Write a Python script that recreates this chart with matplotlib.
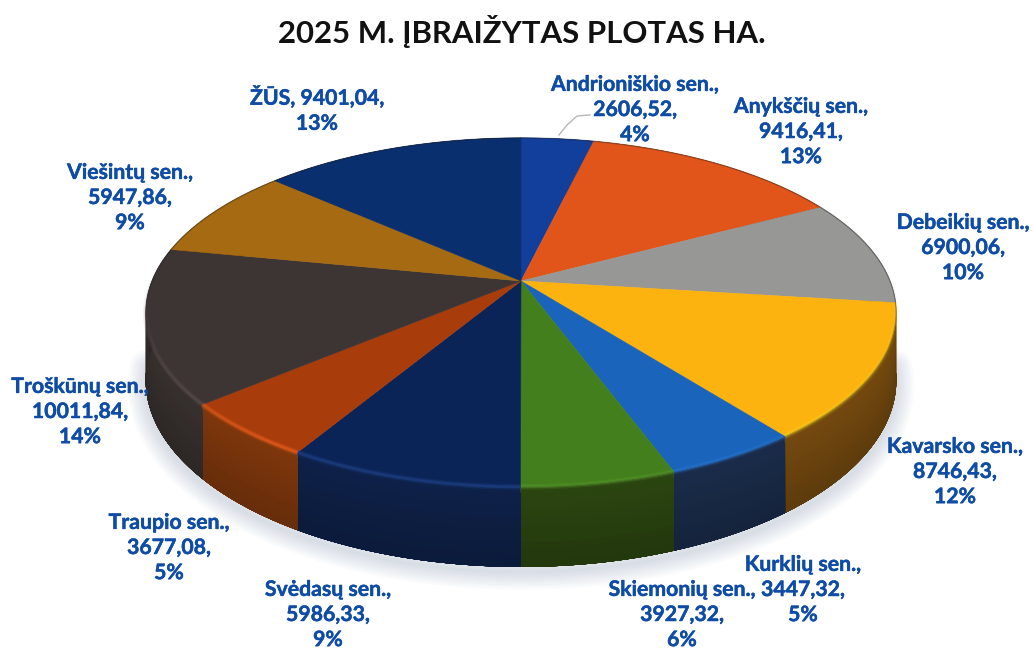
import numpy as np
import matplotlib
matplotlib.use("Agg")
import matplotlib.pyplot as plt
import matplotlib.patheffects as pe
from matplotlib.collections import LineCollection
from matplotlib.colors import to_rgb

# Data
names = ["Andrioniškio sen.", "Anykščių sen.", "Debeikių sen.", "Kavarsko sen.",
         "Kurklių sen.", "Skiemonių sen.", "Svėdasų sen.", "Traupio sen.",
         "Troškūnų sen.", "Viešintų sen.", "ŽŪS"]
values = [2606.52, 9416.41, 6900.06, 8746.43, 3447.32, 3927.32,
          5986.33, 3677.08, 10011.84, 5947.86, 9401.04]
percents = [4, 13, 10, 12, 5, 6, 9, 5, 14, 9, 13]

top_colors = ["#123f9c", "#e2551a", "#979795", "#fdb30f", "#1a64bb", "#437f1d",
              "#0b2458", "#a83c0b", "#3d3434", "#a56a12", "#0a2f6e"]
side_colors = ["#0f2a60", "#8a3a10", "#5c5c5c", "#74490f", "#1a2c4a", "#2b4510",
               "#0e2148", "#7f370c", "#37302f", "#6a4510", "#0c2350"]

# label centres in pixels
label_x = [635, 801, 963, 955, 803, 682, 328, 169, 80, 130, 317]
label_y = [110, 132, 248, 472, 590, 615, 615, 548, 412, 198, 110]

# perspective of the disc
CX, CY = 521, 281
A, B, K = 369, 168.8, 0.18
DEPTH = 65.5


def project(theta):
    u, v = np.sin(theta), np.cos(theta)
    w = 1 + K * v
    return CX + A * u / w, CY - B * v / w, w


def scale(color, f):
    return tuple(min(1, c * f) for c in to_rgb(color))


fig = plt.figure(figsize=(10.33, 6.49), dpi=100)
ax = fig.add_axes([0, 0, 1, 1])
ax.set_xlim(0, 1033)
ax.set_ylim(649, 0)
ax.axis("off")

total = sum(values)
edges = np.concatenate([[0], np.cumsum(values)]) / total * 2 * np.pi

# soft shadow under the front of the pie
th = np.radians(np.linspace(95, 265, 200))
sx, sy, sw = project(th)
for lw in range(26, 0, -3):
    ax.plot(sx, sy + DEPTH / sw + 5, color="#8e9bb5", lw=lw, alpha=0.04,
            solid_capstyle="round", zorder=1)

# side wall, painted in overlapping bands from top to bottom for the shading
bands = np.linspace(0, 1, 14)[:-1]
for i in range(len(values)):
    th = np.linspace(edges[i], edges[i + 1], 80)
    x, y, w = project(th)
    for t in bands:
        px = np.r_[x, x[::-1]]
        py = np.r_[y + t * DEPTH / w, (y + DEPTH / w)[::-1]]
        ax.fill(px, py, color=scale(side_colors[i], 1.0 - 0.2 * t), lw=0.3, zorder=2)

# top face
for i in range(len(values)):
    th = np.linspace(edges[i], edges[i + 1], 80)
    x, y, w = project(th)
    ax.fill(np.r_[CX, x], np.r_[CY, y], color=top_colors[i], lw=0.4, zorder=3)

# dark thin edge on the outer rim, then the bright bevel on the front left
th = np.linspace(0, 2 * np.pi, 360)
rx, ry, rw = project(th)
ax.plot(rx, ry, color="#1c1a18", lw=1.0, alpha=0.35, zorder=3.5)
for i in range(len(values)):
    th = np.linspace(edges[i], edges[i + 1], 80)
    x, y, w = project(th)
    segs, strong = [], []
    for j in range(len(th) - 1):
        s = max(0.0, -np.cos(th[j]))
        if np.sin(th[j]) > 0:
            s *= 0.35
        segs.append([(x[j], y[j]), (x[j + 1], y[j + 1])])
        strong.append(min(1, s * 1.2))
    light = tuple(min(1, c * 1.3 + 0.05) for c in to_rgb(top_colors[i]))
    for lw, fade in [(4.0, 0.35), (2.0, 0.8)]:
        cols = [light + (a * fade,) for a in strong]
        ax.add_collection(LineCollection(segs, colors=cols, linewidths=lw, zorder=4))

# leader line of the smallest slice
ax.plot([559, 567, 577, 590], [135, 125, 116, 115], color="#b5b8ba", lw=1, zorder=5)

# labels
font = ["Lato", "DejaVu Sans"]
stroke = [pe.withStroke(linewidth=0.35, foreground="#0f4ca6")]
for i in range(len(values)):
    val = f"{values[i]:.2f}".replace(".", ",")
    if names[i] == "ŽŪS":
        txt = f"{names[i]}, {val},\n{percents[i]}%"
    else:
        txt = f"{names[i]},\n{val},\n{percents[i]}%"
    ax.text(label_x[i], label_y[i], txt, ha="center", va="center", family=font,
            fontweight="bold", fontsize=15.3, color="#0f4ca6", linespacing=1.32,
            path_effects=stroke, zorder=6)

ax.text(522, 32, "2025 M. ĮBRAIŽYTAS PLOTAS HA.", ha="center", va="center", family=font,
        fontweight="bold", fontsize=22.4, color="#111111", zorder=6)

fig.savefig("out.png", dpi=100, facecolor="white")
